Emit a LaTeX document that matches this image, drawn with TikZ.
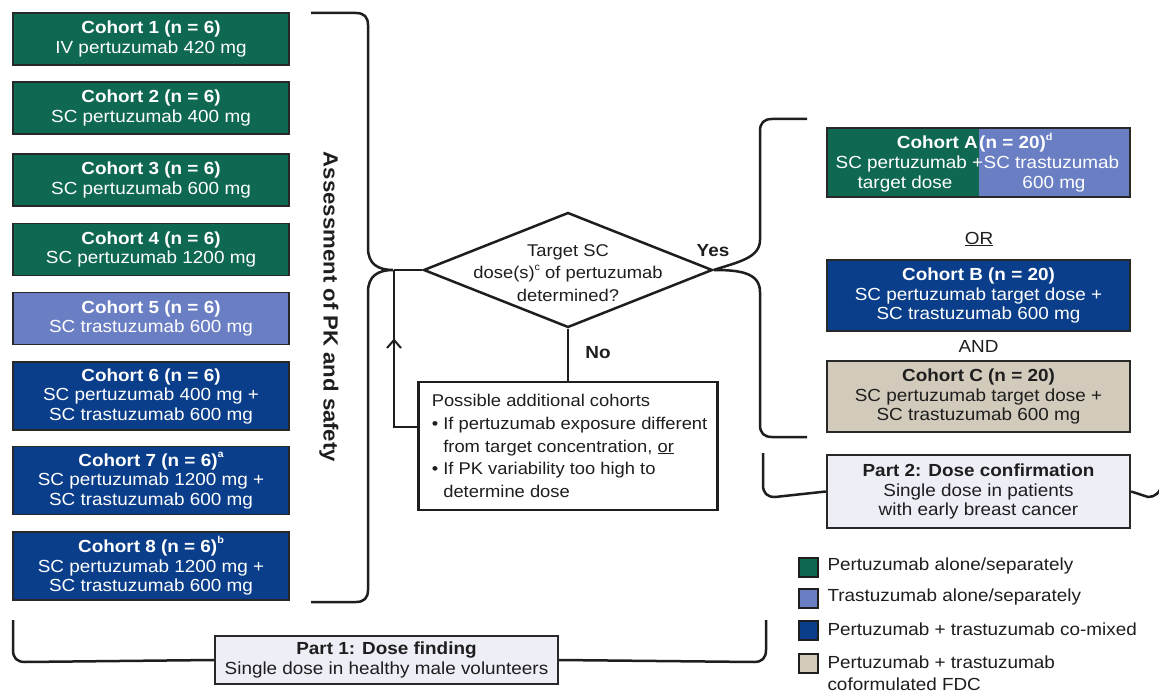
\documentclass[tikz,border=0pt]{standalone}
\usepackage{fontspec}
\setmainfont{Liberation Sans}[FakeStretch=1.08]
\usetikzlibrary{shapes.geometric,arrows.meta,decorations.markings}
\definecolor{pgreen}{RGB}{14,104,82}
\definecolor{tblue}{RGB}{106,126,196}
\definecolor{navy}{RGB}{10,62,138}
\definecolor{tanc}{RGB}{210,203,188}
\definecolor{lav}{RGB}{238,238,247}
\definecolor{bord}{RGB}{40,40,40}
\definecolor{ink}{RGB}{30,30,30}
\newcommand\myfs{\fontsize{17.5}{19.5}\selectfont}
\newcommand\mysup[1]{\raisebox{0.5em}{\fontsize{10}{10}\selectfont #1}}
\tikzset{
  cohort/.style={draw=bord, line width=1.8, minimum width=276, minimum height=52, align=center, font=\myfs, text=white, inner sep=0},
  cohortr/.style={draw=bord, line width=1.8, minimum width=303, minimum height=71, align=center, font=\myfs, text=white, inner sep=0},
  partbox/.style={draw=bord, line width=2.4, fill=lav, align=center, font=\myfs, text=ink, inner sep=0},
  brk/.style={draw=ink, line width=2.5},
  ln/.style={draw=ink, line width=2.5},
  lbl/.style={font=\myfs, text=ink},
  legsq/.style={draw=ink, line width=2, minimum width=19, minimum height=19, inner sep=0},
  celltxt/.style={font=\myfs, text=white, inner sep=0.5},
}
\begin{document}
\begin{tikzpicture}[x=1pt,y=-1pt]
\useasboundingbox (0,0) rectangle (1159,692);
\fill[white] (0,0) rectangle (1159,692);

% left cohorts
\node[cohort, fill=pgreen] (c1) at (151,39) {\textbf{Cohort 1 (n = 6)}\\IV pertuzumab 420 mg};
\node[cohort, fill=pgreen] (c2) at (151,108) {\textbf{Cohort 2 (n = 6)}\\SC pertuzumab 400 mg};
\node[cohort, fill=pgreen] (c3) at (151,180) {\textbf{Cohort 3 (n = 6)}\\SC pertuzumab 600 mg};
\node[cohort, fill=pgreen] (c4) at (151,249.5) {\textbf{Cohort 4 (n = 6)}\\SC pertuzumab 1200 mg};
\node[cohort, fill=tblue] (c5) at (151,318.5) {\textbf{Cohort 5 (n = 6)}\\SC trastuzumab 600 mg};
\node[cohort, fill=navy, minimum height=68] (c6) at (151,396) {\textbf{Cohort 6 (n = 6)}\\SC pertuzumab 400 mg +\\SC trastuzumab 600 mg};
\node[cohort, fill=navy, minimum height=68] (c7) at (151,480.5) {\textbf{Cohort 7 (n = 6)\mysup{a}}\\SC pertuzumab 1200 mg +\\SC trastuzumab 600 mg};
\node[cohort, fill=navy, minimum height=68] (c8) at (151,566) {\textbf{Cohort 8 (n = 6)\mysup{b}}\\SC pertuzumab 1200 mg +\\SC trastuzumab 600 mg};

% left brace
\draw[brk] (311,13) -- (356,13) .. controls (364,13) and (368,17) .. (368,25) -- (368,248)
  .. controls (368,264) and (378,270) .. (393,270)
  .. controls (378,270) and (368,276) .. (368,292) -- (368,590)
  .. controls (368,598) and (364,602) .. (356,602) -- (311,602);
\node[rotate=-90, font=\bfseries\fontsize{20.5}{22}\selectfont, text=ink] (assess) at (329,307) {Assessment of PK and safety};

% diamond
\node[draw=ink, line width=2.5, diamond, minimum width=289, minimum height=115, inner sep=0] (dia) at (568,270) {};
\node[lbl, align=center, font=\fontsize{17}{22.5}\selectfont] (diatxt) at (568,273) {Target SC\\dose(s)\mysup{c} of pertuzumab\\determined?};
\coordinate (j) at (394,270);
\draw[ln] (j) -- (dia.west);
\node[lbl, font=\bfseries\myfs] (yes) at (713,251) {Yes};
\node[lbl, font=\bfseries\myfs] (no) at (598,353) {No};

% possible box
\node[draw=ink, line width=2.5, minimum width=299, minimum height=128, inner sep=0] (poss) at (568,446) {};
\node[lbl, anchor=west, align=left, font=\fontsize{17}{22.7}\selectfont] (posstxt) at ([xshift=11]poss.west) {Possible additional cohorts\\
• If pertuzumab exposure different\\
\phantom{• }from target concentration, \underline{or}\\
• If PK variability too high to\\
\phantom{• }determine dose};
\draw[ln] (dia.south) -- (poss.north);
\draw[ln, postaction={decorate}, decoration={markings, mark=at position 0.62 with {\arrow{Straight Barb[length=8pt,width=14pt,line width=2pt]}}}]
  ([yshift=19]poss.west) -| (j);

% right brace
\draw[brk] (dia.east) .. controls (738,262) and (760,258) .. (760,240) -- (760,131)
  .. controls (760,123) and (764,119) .. (772,119) -- (807,119);
\draw[brk] (dia.east) .. controls (738,270) and (760,272) .. (760,292) -- (760,425)
  .. controls (760,433) and (764,437) .. (772,437) -- (807,437);

% cohort A
\fill[pgreen] (827,128) rectangle (978.5,197);
\fill[tblue] (978.5,128) rectangle (1130,197);
\node[draw=bord, line width=1.8, minimum width=303, minimum height=69, inner sep=0] (ca) at (978.5,162.5) {};
\node[celltxt, anchor=base east, font=\bfseries\myfs] (ca1l) at (978.5,149) {Cohort A};
\node[celltxt, anchor=base west, font=\bfseries\myfs] (ca1r) at (978.5,149) {(n = 20)\mysup{d}};
\node[celltxt, anchor=base east] (ca2l) at (984,169) {SC pertuzumab +};
\node[celltxt, anchor=base west] (ca2r) at (983,169) {SC trastuzumab};
\node[celltxt, anchor=base] (ca3l) at (905,189) {target dose};
\node[celltxt, anchor=base] (ca3r) at (1054,189) {600 mg};

\node[lbl] (or) at (979,239) {\underline{OR}};
\node[cohortr, fill=navy] (cb) at (978.5,295.5) {\textbf{Cohort B (n = 20)}\\SC pertuzumab target dose +\\SC trastuzumab 600 mg};
\node[lbl] (and) at (978.5,346) {AND};
\node[cohortr, fill=tanc, text=ink] (cc) at (978.5,396.5) {\textbf{Cohort C (n = 20)}\\SC pertuzumab target dose +\\SC trastuzumab 600 mg};

% part 2
\node[partbox, minimum width=303, minimum height=73] (p2) at (978.5,491.5) {\textbf{Part 2: Dose confirmation}\\Single dose in patients\\with early breast cancer};
\draw[brk] (763,453) -- (763,485) .. controls (763,493) and (767,497) .. (775,497) -- (p2.west);
\draw[brk] (p2.east) -- (1148,497) .. controls (1155,497) and (1160,493) .. (1162,484);

% part 1
\node[partbox, minimum width=343, minimum height=48] (p1) at (386.5,660) {\textbf{Part 1: Dose finding}\\Single dose in healthy male volunteers};
\draw[brk] (13,620) -- (13,650) .. controls (13,658) and (17,662) .. (25,662) -- (p1.west);
\draw[brk] (p1.east) -- (754,662) .. controls (762,662) and (766,658) .. (766,650) -- (766,620);

% legend
\node[legsq, fill=pgreen] (lg1) at (808,567) {};
\node[lbl, anchor=west] (lt1) at (824,566) {Pertuzumab alone/separately};
\node[legsq, fill=tblue] (lg2) at (808,598) {};
\node[lbl, anchor=west] (lt2) at (824,597) {Trastuzumab alone/separately};
\node[legsq, fill=navy] (lg3) at (808,630) {};
\node[lbl, anchor=west] (lt3) at (824,629) {Pertuzumab + trastuzumab co-mixed};
\node[legsq, fill=tanc] (lg4) at (808,663) {};
\node[lbl, anchor=west, align=left, font=\fontsize{17.5}{21.5}\selectfont] (lt4) at (824,673) {Pertuzumab + trastuzumab\\coformulated FDC};
\end{tikzpicture}
\end{document}
